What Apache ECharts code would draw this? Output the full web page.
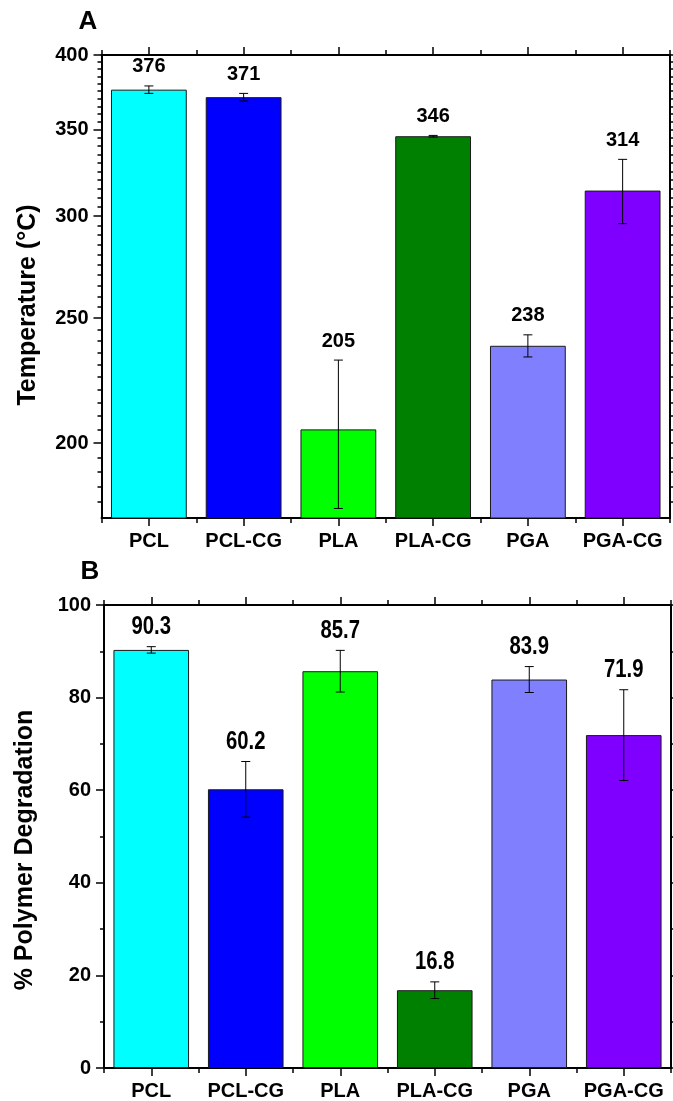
<!DOCTYPE html>
<html>
<head>
<meta charset="utf-8">
<script src="https://cdn.jsdelivr.net/npm/echarts@6/dist/echarts.min.js"></script>
<style>
  html, body { margin: 0; padding: 0; background: #fff; }
  #chart { width: 673px; height: 1101px; }
</style>
</head>
<body>
<div id="chart"></div>
<script>
// Polymers tested
const categories = ['PCL', 'PCL-CG', 'PLA', 'PLA-CG', 'PGA', 'PGA-CG'];
const barColors = ['#00FFFF', '#0000FF', '#00FF00', '#008000', '#8080FF', '#8000FF'];

// Panel A: degradation temperature (°C), mean and error
const tempValues = [376, 371, 205, 346, 238, 314];
const tempErrors = [2.5, 2.5, 27, 0.5, 4.7, 18];
const tempTicks = [200, 250, 300, 350, 400];
const tempMin = 175;
const tempMax = 400;
const tempMinorStep = 5;

// Panel B: % polymer degradation, mean and error
const degValues = [90.3, 60.2, 85.7, 16.8, 83.9, 71.9];
const degErrors = [0.7, 6, 4.5, 1.8, 2.8, 9.8];
const degTicks = [0, 20, 40, 60, 80, 100];

const FONT = '"Liberation Sans", Arial, Helvetica, sans-serif';

// minor ticks of the temperature axis (every 5 °C between the labelled ticks)
const tempMinorTicks = [];
for (let t = Math.ceil(tempMin / tempMinorStep) * tempMinorStep; t <= tempMax; t += tempMinorStep) {
  if (tempTicks.indexOf(t) < 0 && t > tempMin) tempMinorTicks.push(t);
}

const axisLineStyle = { show: true, lineStyle: { color: '#000', width: 2 } };
const tickStyle = { color: '#000', width: 1.5 };

function categoryAxes(grid) {
  const base = { gridIndex: grid, type: 'category', data: categories, boundaryGap: true,
                 splitLine: { show: false } };
  return [
    Object.assign({}, base, {
      position: 'bottom', axisLine: axisLineStyle,
      axisTick: { show: true, alignWithLabel: true, length: 8, lineStyle: tickStyle },
      axisLabel: { show: true, interval: 0, margin: 13, color: '#000', fontSize: 20,
                   fontWeight: 'bold', fontFamily: FONT }
    }),
    Object.assign({}, base, {
      position: 'bottom', axisLine: { show: false },
      axisTick: { show: true, length: 5, lineStyle: tickStyle }, axisLabel: { show: false }
    }),
    Object.assign({}, base, {
      position: 'top', axisLine: axisLineStyle,
      axisTick: { show: true, alignWithLabel: true, length: 8, lineStyle: tickStyle },
      axisLabel: { show: false }
    }),
    Object.assign({}, base, {
      position: 'top', axisLine: { show: false },
      axisTick: { show: true, length: 5, lineStyle: tickStyle }, axisLabel: { show: false }
    })
  ];
}

const tickLabel = { color: '#000', fontSize: 20, fontWeight: 'bold', fontFamily: FONT, margin: 13 };

function tempAxis(position, major) {
  return {
    gridIndex: 0, type: 'log', logBase: 10, min: tempMin, max: tempMax, position: position,
    splitLine: { show: false },
    axisLine: major ? axisLineStyle : { show: false },
    axisTick: { show: true, length: major ? 8 : 4, lineStyle: tickStyle,
                customValues: major ? tempTicks : tempMinorTicks },
    axisLabel: (major && position === 'left')
      ? Object.assign({ customValues: tempTicks, formatter: v => String(Math.round(v)) }, tickLabel)
      : { show: false }
  };
}

function degAxis(position) {
  return {
    gridIndex: 1, type: 'value', min: 0, max: 100, interval: 20, position: position,
    splitLine: { show: false }, axisLine: axisLineStyle,
    axisTick: { show: true, length: 8, lineStyle: tickStyle },
    minorTick: { show: true, splitNumber: 2, length: 4, lineStyle: tickStyle },
    axisLabel: position === 'left' ? Object.assign({}, tickLabel) : { show: false }
  };
}

// error bar with caps and a value label above it
function errorBarRenderer(labelFmt, fontSize, scaleX, gap) {
  return function (params, api) {
    const i = api.value(0), v = api.value(1), e = api.value(2);
    const top = api.coord([i, v + e]);
    const bot = api.coord([i, v - e]);
    const cap = 4.5;
    const ls = { stroke: '#000', lineWidth: 1 };
    return {
      type: 'group',
      children: [
        { type: 'line', shape: { x1: top[0], y1: top[1], x2: bot[0], y2: bot[1] }, style: ls },
        { type: 'line', shape: { x1: top[0] - cap, y1: top[1], x2: top[0] + cap, y2: top[1] }, style: ls },
        { type: 'line', shape: { x1: bot[0] - cap, y1: bot[1], x2: bot[0] + cap, y2: bot[1] }, style: ls },
        {
          type: 'text', x: top[0], y: top[1] - gap, scaleX: scaleX, scaleY: 1,
          style: { text: labelFmt(v), fill: '#000', fontSize: fontSize, fontWeight: 'bold',
                   fontFamily: FONT, align: 'center', verticalAlign: 'middle' }
        }
      ]
    };
  };
}

function barData(values) {
  return values.map((v, k) => ({ value: v, itemStyle: { color: barColors[k] } }));
}
function errData(values, errors) {
  return values.map((v, k) => [k, v, errors[k]]);
}

const option = {
  animation: false,
  backgroundColor: '#fff',
  grid: [
    { left: 101.5, top: 55, width: 568.5, height: 463 },
    { left: 104, top: 605, width: 567, height: 463 }
  ],
  xAxis: categoryAxes(0).concat(categoryAxes(1)),
  yAxis: [
    tempAxis('left', true), tempAxis('left', false),
    tempAxis('right', true), tempAxis('right', false),
    degAxis('left'), degAxis('right')
  ],
  graphic: [
    { type: 'text', x: 88, y: 22, style: { text: 'A', fill: '#000', fontSize: 26, fontWeight: 'bold',
      fontFamily: FONT, align: 'center', verticalAlign: 'middle' } },
    { type: 'text', x: 90, y: 572, style: { text: 'B', fill: '#000', fontSize: 26, fontWeight: 'bold',
      fontFamily: FONT, align: 'center', verticalAlign: 'middle' } },
    { type: 'text', x: 28, y: 305, rotation: Math.PI / 2, style: { text: 'Temperature (°C)', fill: '#000',
      fontSize: 25, fontWeight: 'bold', fontFamily: FONT, align: 'center', verticalAlign: 'middle' } },
    { type: 'text', x: 25, y: 850, rotation: Math.PI / 2, style: { text: '% Polymer Degradation', fill: '#000',
      fontSize: 25, fontWeight: 'bold', fontFamily: FONT, align: 'center', verticalAlign: 'middle' } }
  ],
  series: [
    {
      type: 'bar', xAxisIndex: 0, yAxisIndex: 0, barWidth: '80%', clip: true,
      itemStyle: { borderColor: '#1a1a1a', borderWidth: 1 },
      data: barData(tempValues)
    },
    {
      type: 'custom', xAxisIndex: 0, yAxisIndex: 0, clip: false,
      renderItem: errorBarRenderer(v => String(v), 20, 1, 19),
      encode: { x: 0, y: 1 },
      data: errData(tempValues, tempErrors), z: 5
    },
    {
      type: 'bar', xAxisIndex: 4, yAxisIndex: 4, barWidth: '80%',
      itemStyle: { borderColor: '#1a1a1a', borderWidth: 1 },
      data: barData(degValues)
    },
    {
      type: 'custom', xAxisIndex: 4, yAxisIndex: 4, clip: false,
      renderItem: errorBarRenderer(v => v.toFixed(1), 26, 0.78, 20),
      encode: { x: 0, y: 1 },
      data: errData(degValues, degErrors), z: 5
    }
  ]
};

const chart = echarts.init(document.getElementById('chart'), null, { renderer: 'canvas' });
chart.setOption(option);
</script>
</body>
</html>
